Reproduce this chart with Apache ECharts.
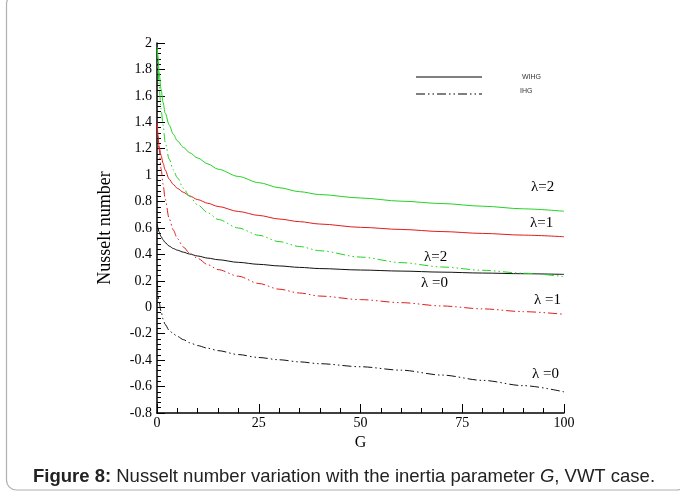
<!DOCTYPE html>
<html><head><meta charset="utf-8">
<script src="https://cdn.jsdelivr.net/npm/echarts@6/dist/echarts.min.js"></script>
<style>html,body{margin:0;padding:0;background:#fff;}#c{width:680px;height:495px;}</style>
</head><body><div id="c"></div>
<script>
const G = [0.05, 0.25, 0.5, 1, 1.5, 2, 3, 4, 5, 6.5, 8, 10, 12.5, 15, 20, 25, 30, 35, 40, 50, 60, 70, 80, 90, 100];
const wihg2 = [1.97, 1.9, 1.78, 1.65, 1.55, 1.47, 1.38, 1.31, 1.26, 1.21, 1.17, 1.13, 1.085, 1.045, 0.99, 0.943, 0.905, 0.875, 0.853, 0.827, 0.803, 0.785, 0.765, 0.745, 0.727];
const wihg1 = [1.40, 1.3, 1.22, 1.15, 1.09, 1.04, 0.97, 0.93, 0.9, 0.87, 0.843, 0.815, 0.787, 0.763, 0.725, 0.695, 0.668, 0.648, 0.63, 0.605, 0.589, 0.573, 0.559, 0.546, 0.534];
const wihg0 = [0.63, 0.6, 0.57, 0.535, 0.51, 0.49, 0.463, 0.445, 0.432, 0.417, 0.403, 0.388, 0.372, 0.36, 0.34, 0.325, 0.313, 0.302, 0.293, 0.282, 0.274, 0.266, 0.259, 0.254, 0.249];
const ihg2 = [1.95, 1.8, 1.68, 1.5, 1.38, 1.25, 1.12, 1.04, 0.98, 0.9, 0.84, 0.775, 0.715, 0.665, 0.6, 0.545, 0.497, 0.46, 0.428, 0.38, 0.338, 0.305, 0.28, 0.258, 0.232];
const ihg1 = [1.38, 1.28, 1.2, 1.05, 0.93, 0.82, 0.67, 0.585, 0.52, 0.455, 0.41, 0.37, 0.322, 0.285, 0.235, 0.18, 0.137, 0.108, 0.085, 0.058, 0.035, 0.01, -0.012, -0.033, -0.053];
const ihg0 = [0.2, 0.1, 0.04, -0.03, -0.09, -0.13, -0.175, -0.2, -0.22, -0.245, -0.268, -0.29, -0.31, -0.328, -0.358, -0.38, -0.397, -0.413, -0.427, -0.45, -0.476, -0.513, -0.553, -0.593, -0.64];
const xTicks = [0, 25, 50, 75, 100];
const yTicks = [-0.8, -0.6, -0.4, -0.2, 0, 0.2, 0.4, 0.6, 0.8, 1, 1.2, 1.4, 1.6, 1.8, 2];
const legendNames = ['WIHG', 'IHG'];
const curveLabels = ['λ=2', 'λ=1', 'λ=2', 'λ =0', 'λ =1', 'λ =0'];
const captionBold = 'Figure 8:';
const captionText = ' Nusselt number variation with the inertia parameter ';
const captionItalic = 'G';
const captionEnd = ', VWT case.';

const pairs = v => G.map((g, i) => [g, v[i]]);
const GREEN = '#22d322', RED = '#e01c1c', BLACK = '#111';
const DASHDOT = [9, 3, 1.5, 3, 1.5, 3];
function mk(name, data, color, dashed) {
  return { name, type: 'line', data: pairs(data), smooth: 0.3, smoothMonotone: 'x', symbol: 'none', silent: true,
    lineStyle: { color, width: 1, type: dashed ? DASHDOT : 'solid' } };
}
const serif = '"Liberation Serif","DejaVu Serif",serif';
const sans = '"Liberation Sans",Arial,sans-serif';
const chart = echarts.init(document.getElementById('c'), null, { renderer: 'canvas' });
chart.setOption({
  animation: false,
  backgroundColor: '#fff',
  grid: { left: 157, right: 116, top: 43, bottom: 82, containLabel: false },
  xAxis: {
    type: 'value', min: 0, max: 100, interval: 25,
    name: 'G', nameLocation: 'middle', nameGap: 22,
    nameTextStyle: { fontFamily: serif, fontSize: 16, color: '#000' },
    axisLine: { show: true, onZero: false, lineStyle: { color: '#000', width: 1.5 } },
    axisTick: { show: true, inside: true, length: 9, lineStyle: { color: '#000', width: 1 } },
    minorTick: { show: true, splitNumber: 5, length: 5, lineStyle: { color: '#000', width: 1 } },
    axisLabel: { fontFamily: serif, fontSize: 14, color: '#000', margin: 3,
      formatter: v => xTicks.includes(v) ? String(v) : '' },
    splitLine: { show: false }
  },
  yAxis: {
    type: 'value', min: -0.8, max: 2, interval: 0.2,
    name: 'Nusselt number', nameLocation: 'middle', nameGap: 43, nameRotate: 90,
    nameTextStyle: { fontFamily: serif, fontSize: 18, color: '#000' },
    axisLine: { show: true, onZero: false, lineStyle: { color: '#000', width: 1.5 } },
    axisTick: { show: true, inside: true, length: 8, lineStyle: { color: '#000', width: 1 } },
    minorTick: { show: true, splitNumber: 5, length: 4, lineStyle: { color: '#000', width: 1 } },
    axisLabel: { fontFamily: serif, fontSize: 14, color: '#000', margin: 5,
      formatter: v => { const r = Math.round(v * 10) / 10; const t = yTicks.find(k => Math.abs(k - r) < 1e-6); return t === undefined ? '' : String(t); } },
    splitLine: { show: false }
  },
  series: [
    mk('WIHG λ=2', wihg2, GREEN, false),
    mk('WIHG λ=1', wihg1, RED, false),
    mk('WIHG λ=0', wihg0, BLACK, false),
    mk('IHG λ=2', ihg2, GREEN, true),
    mk('IHG λ=1', ihg1, RED, true),
    mk('IHG λ=0', ihg0, BLACK, true)
  ],
  graphic: [
    { type: 'rect', shape: { x: 6.5, y: -6, width: 680, height: 496, r: 10 }, style: { fill: 'none', stroke: '#b0b0b0', lineWidth: 1.2 }, silent: true },
    { type: 'line', shape: { x1: 416, y1: 77, x2: 482, y2: 77 }, style: { stroke: '#000', lineWidth: 1 } },
    { type: 'line', shape: { x1: 416, y1: 94, x2: 482, y2: 94 }, style: { stroke: '#000', lineWidth: 1, lineDash: DASHDOT } },
    { type: 'text', x: 522, y: 77, style: { text: legendNames[0], font: '7px ' + sans, fill: '#333', verticalAlign: 'middle' } },
    { type: 'text', x: 520, y: 91, style: { text: legendNames[1], font: '7px ' + sans, fill: '#333', verticalAlign: 'middle' } },
    { type: 'text', x: 531, y: 187, style: { text: curveLabels[0], font: '15px ' + serif, fill: '#000', verticalAlign: 'middle' } },
    { type: 'text', x: 530, y: 223, style: { text: curveLabels[1], font: '15px ' + serif, fill: '#000', verticalAlign: 'middle' } },
    { type: 'text', x: 424, y: 257, style: { text: curveLabels[2], font: '15px ' + serif, fill: '#000', verticalAlign: 'middle' } },
    { type: 'text', x: 421, y: 283, style: { text: curveLabels[3], font: '15px ' + serif, fill: '#000', verticalAlign: 'middle' } },
    { type: 'text', x: 534, y: 300, style: { text: curveLabels[4], font: '15px ' + serif, fill: '#000', verticalAlign: 'middle' } },
    { type: 'text', x: 532, y: 374, style: { text: curveLabels[5], font: '15px ' + serif, fill: '#000', verticalAlign: 'middle' } },
    { type: 'text', x: 33, y: 477, style: { rich: {
        b: { font: 'bold 18.5px ' + sans, fill: '#222' },
        n: { font: '18.5px ' + sans, fill: '#222' },
        i: { font: 'italic 18.5px ' + sans, fill: '#222' } },
      text: '{b|' + captionBold + '}{n|' + captionText + '}{i|' + captionItalic + '}{n|' + captionEnd + '}', verticalAlign: 'middle' } }
  ]
});
</script></body></html>
